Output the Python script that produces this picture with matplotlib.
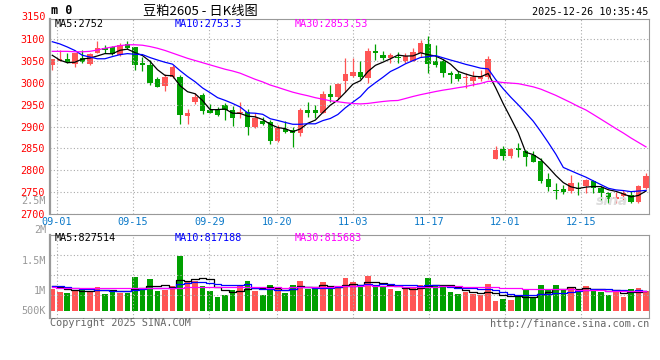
import numpy as np
import matplotlib.pyplot as plt

# daily K data
opens = [3040, 3050, 3055, 3042, 3056, 3042, 3069, 3079, 3081, 3064,
         3088, 3081, 3046, 3041, 3009, 2993, 3013, 3014, 2925, 2955,
         2972, 2938, 2939, 2949, 2938, 2932, 2934, 2900, 2913, 2911,
         2867, 2894, 2891, 2886, 2938, 2938, 2932, 2974, 2968, 3003,
         3016, 3025, 3010, 3073, 3064, 3056, 3060, 3049, 3050, 3069,
         3089, 3049, 3050, 3023, 3020, 3011, 3003, 3009, 3014, 2826,
         2849, 2832, 2851, 2844, 2835, 2822, 2781, 2754, 2756, 2753,
         2760, 2763, 2776, 2760, 2747, 2734, 2740, 2743, 2727, 2760]
highs = [3055, 3074, 3069, 3069, 3075, 3068, 3096, 3087, 3085, 3091,
         3096, 3083, 3060, 3053, 3014, 3020, 3040, 3018, 2940, 2976,
         2976, 2951, 2945, 2953, 2948, 2957, 2940, 2932, 2922, 2916,
         2903, 2912, 2899, 2943, 2957, 2949, 2981, 2995, 2999, 3056,
         3056, 3049, 3079, 3089, 3072, 3068, 3071, 3068, 3079, 3098,
         3108, 3087, 3054, 3027, 3027, 3022, 3026, 3030, 3062, 2856,
         2856, 2850, 2863, 2846, 2845, 2827, 2793, 2770, 2766, 2789,
         2773, 2781, 2777, 2763, 2750, 2750, 2754, 2753, 2766, 2794]
lows = [3030, 3050, 3045, 3037, 3045, 3040, 3068, 3069, 3063, 3062,
        3077, 3030, 3027, 2995, 2990, 2981, 3010, 2906, 2906, 2951,
        2929, 2930, 2924, 2915, 2902, 2919, 2880, 2896, 2903, 2861,
        2865, 2886, 2852, 2878, 2922, 2919, 2930, 2955, 2963, 2980,
        3014, 3008, 2999, 3053, 3053, 3045, 3045, 3045, 3049, 3060,
        3023, 3037, 3014, 2999, 3003, 2987, 2993, 3005, 3008, 2825,
        2823, 2827, 2831, 2809, 2818, 2771, 2753, 2735, 2745, 2748,
        2743, 2747, 2748, 2730, 2725, 2725, 2731, 2725, 2725, 2758]
closes = [3055, 3055, 3047, 3068, 3047, 3066, 3079, 3074, 3066, 3087,
          3079, 3040, 3040, 3000, 2991, 3014, 3036, 2926, 2931, 2968,
          2936, 2932, 2926, 2938, 2920, 2934, 2900, 2919, 2906, 2867,
          2896, 2887, 2884, 2938, 2932, 2932, 2974, 2968, 2997, 3020,
          3025, 3014, 3073, 3068, 3056, 3064, 3056, 3062, 3070, 3091,
          3043, 3040, 3022, 3017, 3009, 3013, 3014, 3016, 3054, 2846,
          2832, 2849, 2847, 2831, 2819, 2776, 2762, 2752, 2749, 2771,
          2757, 2777, 2760, 2747, 2735, 2739, 2747, 2727, 2763, 2786]
# volume, thousand lots
volumes = [910, 800, 760, 830, 910, 800, 1010, 700, 830, 760,
           760, 1430, 900, 1330, 840, 870, 1040, 2310, 1220, 1260,
           1040, 840, 590, 660, 870, 1080, 1250, 840, 660, 1080,
           940, 760, 1080, 1250, 910, 910, 1200, 910, 940, 1360,
           1200, 1040, 1460, 1040, 1010, 910, 830, 910, 940, 1080,
           1360, 1080, 1010, 780, 700, 780, 700, 660, 1120, 410,
           490, 450, 560, 910, 560, 1080, 870, 1080, 870, 1010,
           800, 1040, 870, 800, 660, 870, 590, 910, 950, 830]

# moving-average values before enough history is on screen
ma5_head = [3063, 3052, 3046, 3047]
ma10_head = [3094, 3089, 3082, 3074, 3063, 3059, 3055, 3055, 3060]
ma30_head = [3072, 3072, 3072, 3071, 3071, 3072, 3075, 3079, 3082, 3085,
             3087, 3087, 3086, 3083, 3079, 3074, 3068, 3062, 3056, 3051,
             3046, 3041, 3036, 3031, 3027, 3022, 3015, 3008, 3002]
vma5_head = [1030, 980, 920, 860]
vma10_head = [1040, 1020, 990, 950, 920, 900, 880, 860, 840]
vma30_head = [980, 970, 960, 950, 950, 940, 940, 940, 940, 940,
              940, 940, 940, 950, 950, 950, 960, 970, 980, 980,
              980, 980, 980, 980, 980, 980, 980, 980, 980]

tick_pos = [0.6, 10.7, 20.9, 29.9, 40.0, 50.1, 60.2, 70.4]
tick_labels = ["09-01", "09-15", "09-29", "10-20", "11-03", "11-17", "12-01", "12-15"]


def moving_avg(vals, n, head):
    vals = np.asarray(vals, dtype=float)
    out = np.empty(len(vals))
    out[:n - 1] = head
    for i in range(n - 1, len(vals)):
        out[i] = vals[i - n + 1:i + 1].mean()
    return out


o = np.array(opens); h = np.array(highs); l = np.array(lows); c = np.array(closes)
v = np.array(volumes)
x = np.arange(len(c))
up = c >= o
RED, GREEN = "#ff5555", "#00a000"
cols = np.where(up, RED, GREEN)

mono = "DejaVu Sans Mono"
plt.rcParams["font.family"] = [mono]
W, H = 660, 360
fig = plt.figure(figsize=(6.6, 3.6), dpi=100)


def fx(px):
    return px / W


def fy(py):
    return 1 - py / H


ax = fig.add_axes([fx(50), fy(213.9), fx(599), (213.9 - 19) / H])
axv = fig.add_axes([fx(50), fy(318), fx(599), (318 - 234.7) / H])

grid_kw = dict(color="#aaaaaa", lw=0.8, ls=(0, (1, 2)))

# price panel
ax.vlines(x, l, h, colors=cols, lw=0.9)
body = np.maximum(np.abs(c - o), 2.0)
ax.bar(x, body, bottom=np.minimum(o, c), width=0.72, color=cols, linewidth=0)
ax.plot(x, moving_avg(c, 5, ma5_head), color="black", lw=0.9)
ax.plot(x, moving_avg(c, 10, ma10_head), color="#0000ff", lw=0.9)
ax.plot(x, moving_avg(c, 30, ma30_head), color="#ff00ff", lw=0.9)
ax.set_xlim(-0.3, 79.4)
ax.set_ylim(2700, 3146)
ax.set_yticks(np.arange(2700, 3101, 50))
ax.set_xticks(tick_pos)
ax.set_xticklabels(tick_labels)
ax.grid(True, **grid_kw)
ax.tick_params(length=0, labelsize=7.3, pad=3)
ax.tick_params(axis="y", colors="#ff0000", pad=4)
ax.tick_params(axis="x", colors="#0a78c8", pad=2.5)
for s in ax.spines.values():
    s.set_color("#999999")
ax.spines["left"].set_linewidth(1.6)

# volume panel
axv.bar(x, v, width=0.75, color=cols, linewidth=0)
axv.plot(x, moving_avg(v, 5, vma5_head), color="black", lw=0.9, drawstyle="steps-mid")
axv.plot(x, moving_avg(v, 10, vma10_head), color="#0000ff", lw=0.9, drawstyle="steps-mid")
axv.plot(x, moving_avg(v, 30, vma30_head), color="#ff00ff", lw=0.9, drawstyle="steps-mid")
axv.set_xlim(-0.3, 79.4)
axv.set_ylim(-307, 3190)
axv.set_yticks([660, 1500, 2340])
axv.set_yticklabels([])
axv.set_xticks(tick_pos)
axv.set_xticklabels([])
axv.grid(True, **grid_kw)
axv.tick_params(length=0)
for s in axv.spines.values():
    s.set_color("#999999")
axv.spines["left"].set_linewidth(1.6)

# texts
fs = 7.3
fig.text(fx(46), fy(16.5), "3150", color="#ff0000", ha="right", va="center", fontsize=fs)
fig.text(fx(51), fy(11), "m 0", fontsize=8.5, weight="bold", va="center")
fig.text(fx(200), fy(11), "豆粕2605 - 日K线图", fontsize=9.5, ha="center", va="center",
         family=["Noto Sans CJK SC", mono])
fig.text(fx(648), fy(12), "2025-12-26 10:35:45", fontsize=fs, ha="right", va="center")
fig.text(fx(55), fy(24.3), "MA5:2752", fontsize=fs, va="center", color="black")
fig.text(fx(175), fy(24.3), "MA10:2753.3", fontsize=fs, va="center", color="#0000ff")
fig.text(fx(295), fy(24.3), "MA30:2853.53", fontsize=fs, va="center", color="#ff00ff")
fig.text(fx(55), fy(238.3), "MA5:827514", fontsize=fs, va="center", color="black")
fig.text(fx(175), fy(238.3), "MA10:817188", fontsize=fs, va="center", color="#0000ff")
fig.text(fx(295), fy(238.3), "MA30:815683", fontsize=fs, va="center", color="#ff00ff")
for lab, py in [("2.5M", 201.5), ("2M", 230), ("1.5M", 260.7), ("1M", 290.7), ("500K", 310.7)]:
    fig.text(fx(46), fy(py), lab, color="#999999", ha="right", va="center", fontsize=fs)
fig.text(fx(50), fy(323.5), "Copyright 2025 SINA.COM", color="#666666", va="center", fontsize=fs)
fig.text(fx(649), fy(324), "http://finance.sina.com.cn", color="#666666", ha="right",
         va="center", fontsize=fs)
fig.text(fx(612), fy(201), "sina", color="#dddddd", fontsize=10, style="italic",
         weight="bold", ha="center", va="center", family=["DejaVu Sans"])

fig.savefig("out.png", dpi=100)
